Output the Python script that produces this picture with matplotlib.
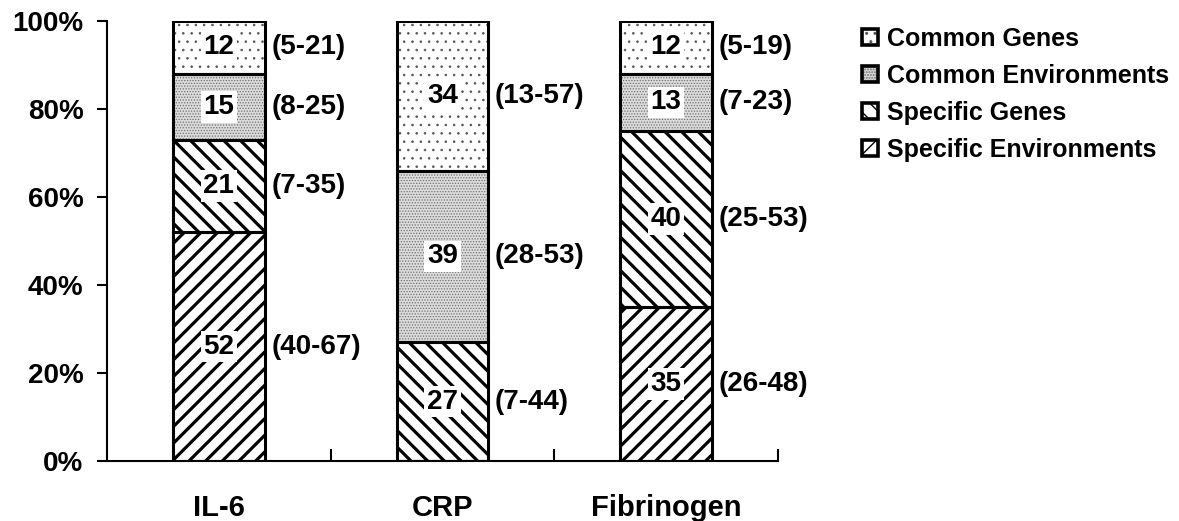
import matplotlib
matplotlib.use("Agg")
import matplotlib.pyplot as plt
from matplotlib.patches import Patch
import numpy as np

categories = ["IL-6", "CRP", "Fibrinogen"]
series_names = ["Specific Environments", "Specific Genes", "Common Environments", "Common Genes"]
specific_env = [52, 0, 35]
specific_genes = [21, 27, 40]
common_env = [15, 39, 13]
common_genes = [12, 34, 12]
ranges_specific_env = ["(40-67)", "", "(26-48)"]
ranges_specific_genes = ["(7-35)", "(7-44)", "(25-53)"]
ranges_common_env = ["(8-25)", "(28-53)", "(7-23)"]
ranges_common_genes = ["(5-21)", "(13-57)", "(5-19)"]
y_ticks = [0, 20, 40, 60, 80, 100]
y_tick_labels = ["0%", "20%", "40%", "60%", "80%", "100%"]

plt.rcParams["font.family"] = ["Liberation Sans", "DejaVu Sans"]
plt.rcParams["font.weight"] = "bold"

fig = plt.figure(figsize=(11.79, 5.21), dpi=100)
ax = fig.add_axes([107 / 1179, 1 - 461 / 521, (778 - 107) / 1179, 440 / 521])

values = [specific_env, specific_genes, common_env, common_genes]
ranges = [ranges_specific_env, ranges_specific_genes, ranges_common_env, ranges_common_genes]
# style: (hatch, facecolor, hatch colour, hatch linewidth)
styles = [("//", "white", "black", 2.3),
          ("\\\\", "white", "black", 2.3),
          ("......", "#dcdcdc", "#6e6e6e", 0.6),
          ("..", "white", "#555555", 0.6)]

x = np.arange(len(categories))
width = 0.41
bottom = np.zeros(len(categories))
handles = []
for vals, rng, (h, fc, hc, hlw), name in zip(values, ranges, styles, series_names):
    vals = np.array(vals, dtype=float)
    with plt.rc_context({"hatch.linewidth": hlw}):
        bars = ax.bar(x, vals, width, bottom=bottom, facecolor=fc, edgecolor=hc,
                      hatch=h, linewidth=0, zorder=2)
        for b in bars:
            if hasattr(b, "set_hatch_linewidth"):
                b.set_hatch_linewidth(hlw)
        hp = Patch(facecolor=fc, edgecolor=hc, hatch=h, linewidth=0)
        if hasattr(hp, "set_hatch_linewidth"):
            hp.set_hatch_linewidth(hlw * 0.8)
    ax.bar(x, vals, width, bottom=bottom, fill=False, edgecolor="black",
           linewidth=2.2, zorder=3)
    for i, v in enumerate(vals):
        if v <= 0:
            continue
        yc = bottom[i] + v / 2
        ax.text(x[i], yc, f"{int(v)}", ha="center", va="center", fontsize=20,
                fontweight="bold", zorder=5,
                bbox=dict(boxstyle="square,pad=0.1", facecolor="white", edgecolor="none"))
        ax.text(x[i] + width / 2 + 0.03, yc, rng[i], ha="left", va="center",
                fontsize=20, fontweight="bold", zorder=5)
    outline = Patch(fill=False, edgecolor="black", linewidth=2.6)
    handles.append((hp, outline))
    bottom += vals

ax.set_xlim(-0.5, 2.5)
ax.set_ylim(0, 100)
ax.set_yticks(y_ticks)
ax.set_yticklabels(y_tick_labels, fontsize=20, fontweight="bold")
ax.set_xticks(x)
ax.set_xticklabels(categories, fontsize=21, fontweight="bold")
ax.tick_params(axis="x", which="major", length=0, pad=24)
ax.set_xticks([0.5, 1.5, 2.5], minor=True)
ax.tick_params(axis="x", which="minor", direction="in", length=9, width=1.5)
ax.tick_params(axis="y", which="major", direction="out", length=7, width=1.5, pad=10)
for s in ["top", "right"]:
    ax.spines[s].set_visible(False)
for s in ["left", "bottom"]:
    ax.spines[s].set_linewidth(1.5)

leg = fig.legend(handles=handles[::-1], labels=series_names[::-1], loc="upper left",
                 bbox_to_anchor=(862 / 1179, 1 - 27 / 521), frameon=False,
                 prop={"size": 18, "weight": "bold"}, handlelength=0.64,
                 handleheight=0.64, handletextpad=0.36, labelspacing=0.52,
                 borderaxespad=0, borderpad=0)

fig.savefig("out.png", dpi=100)
